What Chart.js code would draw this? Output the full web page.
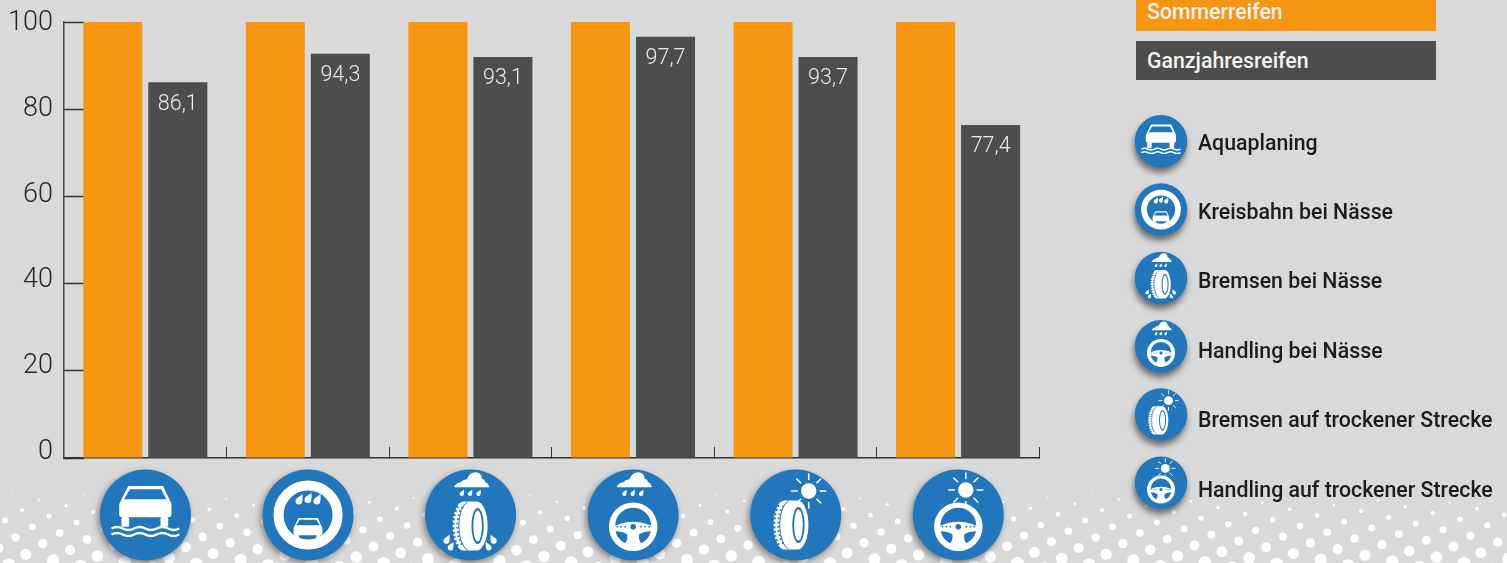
<!DOCTYPE html>
<html lang="de">
<head>
<meta charset="utf-8">
<title>Sommerreifen und Ganzjahresreifen</title>
<script src="https://cdn.jsdelivr.net/npm/chart.js@4"></script>
<style>
    html, body { margin: 0; padding: 0; width: 1507px; height: 563px; overflow: hidden; background: #d9d9d9; }
    #tireChart { position: absolute; left: 0; top: 0; }
    #icons { position: absolute; left: 0; top: 0; }
    .legend-box, .legend-item { position: absolute; font-family: Roboto, sans-serif; font-weight: 500; font-size: 21.3px; white-space: nowrap; }
    .legend-box { left: 1136px; width: 300px; color: #f2f2f2; box-sizing: border-box; padding-left: 11px; }
    .legend-item { left: 1198px; color: #1c1c1c; line-height: 24px; }
    .shadow-big { filter: drop-shadow(-2px 3px 3px rgba(0, 0, 0, 0.4)); }
    .shadow-small { filter: drop-shadow(-1px 5px 3px rgba(0, 0, 0, 0.5)); }
</style>
</head>
<body>
<canvas id="tireChart" width="1507" height="563"></canvas>

<svg id="icons" width="1507" height="563" xmlns="http://www.w3.org/2000/svg">
    <defs>
        <path id="drop" d="M2 -3.2 C1 -1.4 -2.2 -1 -2.2 1.2 A2.1 2.1 0 0 0 2 1.4 C2.3 0 2.3 -1.8 2 -3.2Z" fill="#fff"/>
        <path id="cloud" d="M-16.5 -27.7 Q-15 -32 -9.5 -33 Q-7.5 -36 -4 -35.5 Q-1 -42.7 5 -42.7 Q11 -42.7 11.5 -36 Q14.5 -36 14.5 -33 Q17.5 -32 18.7 -27.7Z" fill="#fff"/>
        <g id="drops">
            <use href="#drop" x="-8.7" y="-22.3"/>
            <use href="#drop" x="-0.5" y="-22.3"/>
            <use href="#drop" x="8" y="-22.3"/>
        </g>
        <g id="car">
            <path d="M-17.3 -29 H17.7 L26 -11 V-1 Q26 2.3 23 2.3 H-23 Q-26.3 2.3 -26.3 -1 V-11Z" fill="#fff"/>
            <path d="M-15.5 -25.7 H15.5 L21 -15.7 H-21.5Z" fill="#2277bc"/>
            <rect x="-24" y="2" width="7.7" height="9.7" rx="1.5" fill="#fff"/>
            <rect x="15" y="2" width="7.7" height="9.7" rx="1.5" fill="#fff"/>
        </g>
        <g id="tire">
            <path d="M-7 -13.5 L6 -13.5 A11 24.5 0 0 1 6 35.5 L-7 35.5 A11 24.5 0 0 1 -7 -13.5Z" fill="#fff"/>
            <path d="M-13 -9 A11 24.5 0 0 0 -13 31" fill="none" stroke="#2277bc" stroke-width="3" stroke-dasharray="2 2.4"/>
            <path d="M-3 -13 A11 24.5 0 0 0 -3 35" fill="none" stroke="#2277bc" stroke-width="1"/>
            <path d="M-8 -8 A9 21 0 0 0 -8 30" fill="none" stroke="#2277bc" stroke-width="2" stroke-dasharray="1.6 2.6"/>
            <ellipse cx="7" cy="11" rx="6.2" ry="18" fill="#2277bc"/>
            <ellipse cx="7" cy="11" rx="4.3" ry="15.5" fill="#fff"/>
        </g>
        <g id="steering">
            <circle r="24.3" fill="#fff"/>
            <path d="M-18 -1 A18 18 0 0 1 18 -1 Q9 -5 0 -5 Q-9 -5 -18 -1Z" fill="#2277bc"/>
            <path d="M-17.7 4.5 Q-11 4.5 -6 7.5 Q-5 13 -8 16.6 A18 18 0 0 1 -17.7 4.5Z" fill="#2277bc"/>
            <path d="M17.7 4.5 Q11 4.5 6 7.5 Q5 13 8 16.6 A18 18 0 0 0 17.7 4.5Z" fill="#2277bc"/>
            <circle r="2.8" fill="#2277bc"/>
            <g fill="#2277bc">
                <circle cx="-16" r="0.9"/><circle cx="-12" r="0.9"/><circle cx="-8" r="0.9"/>
                <circle cx="16" r="0.9"/><circle cx="12" r="0.9"/><circle cx="8" r="0.9"/>
            </g>
        </g>
        <g id="sun">
            <circle r="7.7" fill="#fff"/>
            <g stroke="#fff" stroke-width="1.6" stroke-linecap="round">
                <line x1="0" y1="-11.5" x2="0" y2="-17"/>
                <line x1="8.2" y1="-8.2" x2="12" y2="-12"/>
                <line x1="11.5" y1="0" x2="17" y2="0"/>
                <line x1="8.2" y1="8.2" x2="12" y2="12"/>
                <line x1="0" y1="11.5" x2="0" y2="17"/>
                <line x1="-8.2" y1="8.2" x2="-12" y2="12"/>
                <line x1="-8.2" y1="-8.2" x2="-12" y2="-12"/>
                <line x1="-11.5" y1="0" x2="-17" y2="0"/>
            </g>
        </g>

        <!-- die sechs Piktogramme, Ursprung = Kreismitte -->
        <g id="icon0">
            <circle r="45.5" fill="#2277bc"/>
            <use href="#car"/>
            <g fill="none" stroke="#fff" stroke-width="2.4">
                <path d="M-34 13.5 q5.7 -3 11.3 0 t11.3 0 t11.3 0 t11.3 0 t11.3 0 t11.3 0"/>
                <path d="M-34 19.5 q5.7 -3 11.3 0 t11.3 0 t11.3 0 t11.3 0 t11.3 0 t11.3 0"/>
            </g>
        </g>
        <g id="icon1">
            <circle r="45.5" fill="#2277bc"/>
            <circle r="29.5" fill="none" stroke="#fff" stroke-width="10"/>
            <use href="#drop" transform="translate(-9 -16) scale(1.6)"/>
            <use href="#drop" transform="translate(0 -17.5) scale(1.6)"/>
            <use href="#drop" transform="translate(9 -16) scale(1.6)"/>
            <use href="#car" transform="translate(0 19) scale(0.55)"/>
        </g>
        <g id="icon2">
            <circle r="45.5" fill="#2277bc"/>
            <use href="#cloud"/>
            <use href="#drops"/>
            <use href="#tire"/>
            <use href="#drop" transform="translate(-24 24) scale(1.4)"/>
            <use href="#drop" transform="translate(-20 31) scale(1.3)"/>
            <use href="#drop" transform="translate(23 24) scale(-1.4 1.4)"/>
            <use href="#drop" transform="translate(18 31) scale(-1.3 1.3)"/>
        </g>
        <g id="icon3">
            <circle r="45.5" fill="#2277bc"/>
            <use href="#cloud"/>
            <use href="#drops"/>
            <use href="#steering" y="11.7"/>
        </g>
        <g id="icon4">
            <circle r="45.5" fill="#2277bc"/>
            <use href="#tire" x="-4.3" y="-1"/>
            <use href="#sun" x="13" y="-24"/>
        </g>
        <g id="icon5">
            <circle r="45.5" fill="#2277bc"/>
            <use href="#sun" x="7.5" y="-25"/>
            <use href="#steering" y="11.7"/>
        </g>
    </defs>
    <g id="axisIcons" class="shadow-big"></g>
    <g id="legendIcons" class="shadow-small"></g>
</svg>

<div class="legend-box" id="legendSummer" style="top:-8px;height:39px;line-height:39px;background:#f79613;"></div>
<div class="legend-box" id="legendAllYear" style="top:41px;height:39px;line-height:39px;background:#4d4d4b;"></div>
<div id="legendItems"></div>

<script>
// ==================== DATEN ====================
const categories = ['Aquaplaning', 'Kreisbahn bei Nässe', 'Bremsen bei Nässe', 'Handling bei Nässe', 'Bremsen auf trockener Strecke', 'Handling auf trockener Strecke'];
const seriesNames = ['Sommerreifen', 'Ganzjahresreifen'];
const summerValues = [100, 100, 100, 100, 100, 100];
// bar heights as drawn in the picture, they sit a little below the printed numbers
const allYearValues = [86.2, 92.7, 92.0, 96.6, 92.0, 76.4];
const allYearLabels = ['86,1', '94,3', '93,1', '97,7', '93,7', '77,4'];
const tickLabels = [0, 20, 40, 60, 80, 100];

// ==================== PLUGINS ====================
// white halftone dots along the bottom edge
const halftone = {
    id: 'halftone',
    beforeDraw(chart) {
        const ctx = chart.ctx;
        ctx.save();
        ctx.fillStyle = '#fff';
        for (let i = -10; i < 70; i++) {
            for (let j = -40; j < 40; j++) {
                const x = 5 + i * 27.33 + j * 16.92;
                const y = 520.7 + i * 6.2 - j * 10.58;
                if (x < -10 || x > 1517 || y < 493 || y > 573) continue;
                if (x > 1100 && y < 499) continue;
                const r = (y - 486) * 0.082;
                ctx.beginPath();
                ctx.arc(x, y, r, 0, Math.PI * 2);
                ctx.fill();
            }
        }
        ctx.restore();
    }
};

// printed numbers inside the dark bars
const barLabels = {
    id: 'barLabels',
    afterDatasetsDraw(chart) {
        const ctx = chart.ctx;
        const meta = chart.getDatasetMeta(1);
        ctx.save();
        ctx.font = '300 21.5px Roboto, sans-serif';
        ctx.fillStyle = '#ececec';
        ctx.textAlign = 'center';
        ctx.textBaseline = 'middle';
        meta.data.forEach((bar, i) => {
            ctx.fillText(allYearLabels[i], bar.x, bar.y + 22);
        });
        ctx.restore();
    }
};

// ==================== CHART ====================
const tireChart = new Chart(document.getElementById('tireChart').getContext('2d'), {
    type: 'bar',
    data: {
        labels: categories,
        datasets: [
            { label: seriesNames[0], data: summerValues, backgroundColor: '#f79613', yAxisID: 'y' },
            { label: seriesNames[1], data: allYearValues, backgroundColor: '#4d4d4b', yAxisID: 'y' }
        ]
    },
    options: {
        responsive: false,
        animation: false,
        layout: { padding: { left: 0, right: 467.6, top: 22, bottom: 105 } },
        categoryPercentage: 0.8,
        barPercentage: 0.908,
        plugins: { legend: { display: false }, tooltip: { enabled: false } },
        scales: {
            x: {
                afterFit: s => { s.height = 0; },
                border: { color: '#333', width: 1.5 },
                grid: { drawOnChartArea: false, tickLength: -11, tickColor: '#333', tickWidth: 1 },
                ticks: { display: false }
            },
            y: {
                min: 0,
                max: 100,
                afterFit: s => { s.width = 0; s.paddingTop = 0; s.paddingBottom = 0; },
                border: { color: '#444', width: 1.5 },
                grid: { drawOnChartArea: false, tickLength: -20, tickColor: '#333', tickWidth: 1.5 },
                ticks: { display: false, stepSize: 20 }
            },
            // labels only: in the picture they are spaced tighter than the tick marks
            yLabels: {
                position: 'left',
                min: -1.4,
                max: 100.35,
                afterFit: s => { s.width = 64; s.paddingTop = 0; s.paddingBottom = 0; },
                afterBuildTicks: s => { s.ticks = tickLabels.map(v => ({ value: v })); },
                border: { display: false },
                grid: { display: false, drawTicks: false },
                ticks: {
                    padding: 11,
                    color: '#262626',
                    font: { family: 'Roboto, sans-serif', size: 27, weight: 300 }
                }
            }
        }
    },
    plugins: [halftone, barLabels]
});

// ==================== ICONS + LEGENDE ====================
function addIcon(parent, index, x, y, scale) {
    const use = document.createElementNS('http://www.w3.org/2000/svg', 'use');
    use.setAttribute('href', '#icon' + index);
    use.setAttribute('transform', `translate(${x} ${y}) scale(${scale})`);
    parent.appendChild(use);
}

const xScale = tireChart.scales.x;
const axisIcons = document.getElementById('axisIcons');
const legendIcons = document.getElementById('legendIcons');
const legendItems = document.getElementById('legendItems');

categories.forEach((name, i) => {
    addIcon(axisIcons, i, xScale.getPixelForValue(i) + 0.2, 515, 1);
    addIcon(legendIcons, i, 1161, 141.3 + i * 68.3, 0.577);

    const item = document.createElement('div');
    item.className = 'legend-item';
    item.style.top = (130.5 + i * 69.4) + 'px';
    item.textContent = name;
    legendItems.appendChild(item);
});

document.getElementById('legendSummer').textContent = seriesNames[0];
document.getElementById('legendAllYear').textContent = seriesNames[1];
</script>
</body>
</html>
